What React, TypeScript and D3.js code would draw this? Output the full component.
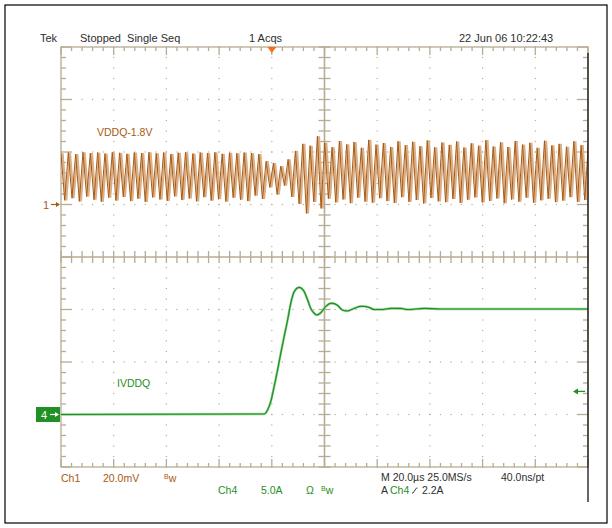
import React from 'react';
import * as d3 from 'd3';

// Ch1 (VDDQ ripple, mV): one peak / one trough per ripple cycle, left to right
const ch1Peaks = [
  19.5, 19.8, 19.2, 19.9, 19.6, 19.8, 19.4, 19.9, 19.7, 19.3, 19.8, 19.6, 19.9, 19.5,
  19.8, 19.2, 19.7, 19.9, 19.4, 19.8, 19.6, 19.9, 19.3, 19.7, 19.5, 19.8, 19.6, 19.2,
  16.5, 15.8, 14.6, 17.2, 20.4, 23.1, 22.4, 26.0, 23.5, 21.8, 24.2, 22.9, 23.8, 21.6,
  24.6, 22.8, 23.4, 21.9, 24.1, 22.6, 23.9, 22.2, 24.4, 21.8, 23.6, 22.7, 24.0, 21.7,
  23.3, 22.4, 24.5, 22.1, 23.7, 21.9, 24.2, 22.8, 23.5, 21.6, 24.3, 22.5, 23.1, 22.0,
  24.1, 22.6, 23.4,
];
const ch1Troughs = [
  1.6, 2.4, 1.2, 3.0, 1.8, 1.1, 2.6, 1.5, 2.9, 1.3, 2.2, 1.0, 2.7, 1.9,
  1.4, 3.1, 1.7, 2.3, 1.2, 2.8, 1.5, 2.0, 1.1, 2.6, 1.8, 1.3, 3.4, 2.1,
  6.5, 3.8, 7.2, 2.9, 0.2, -3.4, 1.0, -1.5, 2.2, 0.8, 1.9, 0.5, 2.6, 1.1,
  0.7, 2.4, 1.3, 0.6, 2.8, 1.0, 1.7, 0.4, 2.5, 1.2, 0.9, 2.1, 0.6, 1.8,
  2.7, 0.8, 1.4, 2.3, 0.5, 1.9, 1.1, 2.6, 0.7, 1.6, 2.2, 0.9, 1.5, 2.8,
  1.0, 1.7, 2.0,
];
const ch1PeriodUs = 2.78;

// Ch4 (IVDDQ load step, A) sampled at times in µs relative to trigger
const ch4Time = [
  -80, -2.9, -1.6, -0.4, 0.9, 2.2, 3.4, 4.7, 6.0, 7.2, 8.5, 10.4, 12.3, 13.6, 14.8,
  16.1, 17.1, 18.6, 20.5, 22.7, 24.9, 26.8, 28.7, 31.2, 33.8, 35.0, 36.9, 38.8, 41.4,
  45.2, 49.0, 51.5, 57.8, 64.1, 71.7, 120,
];
const ch4Amps = [
  0, 0.05, 0.43, 1.22, 2.67, 4.24, 5.83, 7.43, 9.0, 10.6, 11.7, 12.1, 11.7, 10.9, 10.1,
  9.64, 9.48, 9.69, 10.3, 10.6, 10.4, 9.95, 9.86, 10.1, 10.3, 10.3, 10.2, 10.0, 10.0,
  10.1, 10.1, 10.0, 10.1, 10.05, 10.05, 10.05,
];

const triggerLevelA = 2.2;

const headerLabels = ['Tek', 'Stopped  Single Seq', '1 Acqs', '22 Jun 06 10:22:43'];

const GX0 = 61;
const GX1 = 588;
const GY0 = 47;
const GY1 = 467;
const GRID = '#b6ac93';
const BROWN = '#a85a12';
const BROWN_LIGHT = '#dbb088';
const GREEN = '#1f8f26';
const TEXT = '#2e2e2e';
const FONT = '"Liberation Sans", Arial, sans-serif';

export default function App() {
  const x = d3.scaleLinear().domain([-80, 120]).range([GX0, GX1]);
  const divX = d3.scaleLinear().domain([0, 10]).range([GX0, GX1]);
  const divY = d3.scaleLinear().domain([0, 8]).range([GY0, GY1]);
  const y1 = d3.scaleLinear().domain([-100, 60]).range([GY1, GY0]);
  const y4 = d3.scaleLinear().domain([-5, 35]).range([GY1, GY0]);

  const ch1Pts: [number, number][] = [];
  ch1Peaks.forEach((p, i) => {
    const t = -80 + i * ch1PeriodUs;
    ch1Pts.push([t, p]);
    ch1Pts.push([t + ch1PeriodUs * 0.5, ch1Troughs[i]]);
  });
  const line1 = d3
    .line<[number, number]>()
    .x(d => x(d[0]))
    .y(d => y1(d[1]));
  const line1Light = d3
    .line<[number, number]>()
    .x(d => x(d[0]) + 1.6)
    .y(d => y1(d[1]));
  const line4 = d3
    .line<number>()
    .x((_, i) => x(ch4Time[i]))
    .y(d => y4(d))
    .curve(d3.curveMonotoneX);

  const minorX = d3.range(0, 51);
  const minorY = d3.range(0, 41);

  // dotted graticule
  const dots: JSX.Element[] = [];
  for (let i = 1; i < 10; i++) {
    if (i === 5) continue;
    minorY.forEach(k =>
      dots.push(<rect key={`v${i}-${k}`} x={divX(i) - 0.6} y={divY(k / 5) - 0.6} width={1.2} height={1.2} fill={GRID} />)
    );
  }
  for (let j = 1; j < 8; j++) {
    if (j === 4) continue;
    minorX.forEach(k =>
      dots.push(<rect key={`h${j}-${k}`} x={divX(k / 5) - 0.6} y={divY(j) - 0.6} width={1.2} height={1.2} fill={GRID} />)
    );
  }

  const trigY = y4(triggerLevelA);
  const gnd1 = y1(0);
  const gnd4 = y4(0);

  return (
    <svg
      width={612}
      height={528}
      style={{ position: 'absolute', left: 0, top: 0, background: '#fff' }}
      fontFamily={FONT}
    >
      <rect x={5} y={5} width={602} height={518} fill="#fff" stroke="#000" strokeWidth={1.2} />

      {/* header */}
      <g fontSize={11} fill={TEXT}>
        <text x={40} y={42}>{headerLabels[0]}</text>
        <text x={80} y={42} style={{ whiteSpace: 'pre' }}>{headerLabels[1]}</text>
        <text x={249} y={42}>{headerLabels[2]}</text>
        <text x={459} y={42}>{headerLabels[3]}</text>
      </g>

      {dots}

      {/* graticule frame */}
      <g stroke={GRID} strokeWidth={1.3} fill="none">
        <rect x={GX0} y={GY0} width={GX1 - GX0} height={GY1 - GY0} />
        <line x1={divX(5)} x2={divX(5)} y1={GY0} y2={GY1} strokeWidth={1.6} />
        <line x1={GX0} x2={GX1} y1={divY(4)} y2={divY(4)} strokeWidth={1.6} />
        {minorX.map(k => {
          const len = k % 5 === 0 ? 8 : 4;
          const xx = divX(k / 5);
          return (
            <g key={`tx${k}`}>
              <line x1={xx} x2={xx} y1={GY0} y2={GY0 + len} />
              <line x1={xx} x2={xx} y1={GY1} y2={GY1 - len} />
              <line x1={xx} x2={xx} y1={divY(4) - 6} y2={divY(4) + 6} />
            </g>
          );
        })}
        {minorY.map(k => {
          const len = k % 5 === 0 ? 10 : 5;
          const yy = divY(k / 5);
          return (
            <g key={`ty${k}`}>
              <line x1={GX0} x2={GX0 + len} y1={yy} y2={yy} />
              <line x1={GX1} x2={GX1 - len} y1={yy} y2={yy} />
              <line x1={divX(5) - 6} x2={divX(5) + 6} y1={yy} y2={yy} />
            </g>
          );
        })}
      </g>

      <defs>
        <clipPath id="plot">
          <rect x={GX0} y={GY0} width={GX1 - GX0} height={GY1 - GY0} />
        </clipPath>
      </defs>

      {/* traces */}
      <g clipPath="url(#plot)" fill="none">
        <path d={line1Light(ch1Pts) || ''} stroke={BROWN_LIGHT} strokeWidth={2.2} />
        <path d={line1(ch1Pts) || ''} stroke={BROWN} strokeWidth={1} />
        <path d={line4(ch4Amps) || ''} stroke="#8fd28f" strokeWidth={2.4} />
        <path d={line4(ch4Amps) || ''} stroke={GREEN} strokeWidth={1.2} />
      </g>

      {/* trace labels */}
      <text x={97} y={136} fontSize={10.5} fill={BROWN}>VDDQ-1.8V</text>
      <text x={117} y={387} fontSize={10.5} fill={GREEN}>IVDDQ</text>

      {/* ground markers */}
      <text x={43} y={gnd1 + 4} fontSize={11} fill={BROWN}>1</text>
      <line x1={51} x2={58} y1={gnd1} y2={gnd1} stroke={BROWN} strokeWidth={1.2} />
      <path d={`M${60},${gnd1} l-4,-2.5 v5 z`} fill={BROWN} />

      <rect x={36} y={gnd4 - 7.5} width={24} height={15} fill={GREEN} />
      <text x={41} y={gnd4 + 4} fontSize={11} fill="#fff">4</text>
      <line x1={50} x2={57} y1={gnd4} y2={gnd4} stroke="#fff" strokeWidth={1.2} />
      <path d={`M${59},${gnd4} l-4,-2.5 v5 z`} fill="#fff" />

      {/* trigger marks */}
      <path d={`M${x(0) - 4.5},${GY0} h9 l-4.5,6 z`} fill="#ff6a1c" />
      <line x1={576} x2={585} y1={trigY} y2={trigY} stroke={GREEN} strokeWidth={1.3} />
      <path d={`M${573},${trigY} l5,-3 v6 z`} fill={GREEN} />

      {/* bottom readout */}
      <g fontSize={10.5}>
        <text x={61} y={482} fill={BROWN}>Ch1</text>
        <text x={103} y={482} fill={BROWN}>20.0mV</text>
        <text x={164} y={482} fill={BROWN}>
          <tspan fontSize={7} dy={-3}>B</tspan>
          <tspan dy={3}>w</tspan>
        </text>
        <text x={218} y={494} fill={GREEN}>Ch4</text>
        <text x={261} y={494} fill={GREEN}>5.0A</text>
        <text x={306} y={494} fill={GREEN}>Ω</text>
        <text x={321} y={494} fill={GREEN}>
          <tspan fontSize={7} dy={-3}>B</tspan>
          <tspan dy={3}>w</tspan>
        </text>
        <text x={381} y={481} fill={TEXT}>M 20.0µs 25.0MS/s</text>
        <text x={501} y={481} fill={TEXT}>40.0ns/pt</text>
        <text x={381} y={494} fill={TEXT}>A</text>
        <text x={390} y={494} fill={GREEN}>Ch4</text>
        <path d="M412,493 h1 l3.5,-5 h1" fill="none" stroke={TEXT} strokeWidth={0.9} />
        <text x={422} y={494} fill={TEXT}>2.2A</text>
      </g>

      {/* right edge of the captured screen */}
      <line x1={588} x2={588} y1={53} y2={502} stroke="#000" strokeWidth={1.2} />
    </svg>
  );
}
